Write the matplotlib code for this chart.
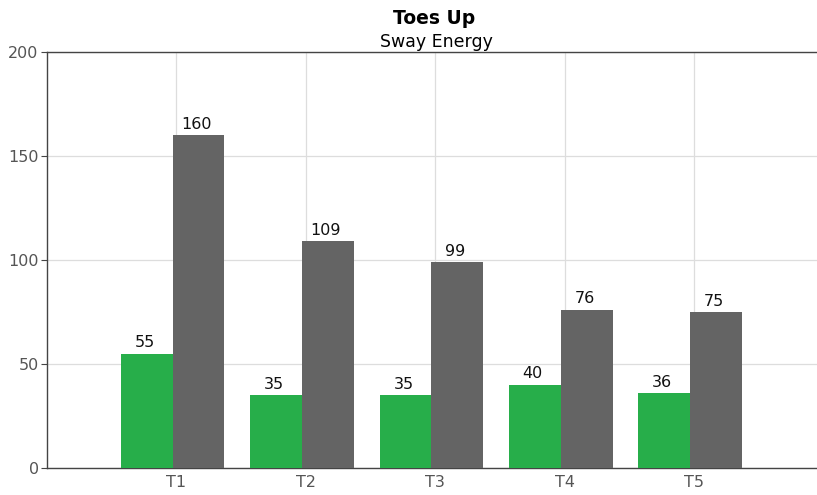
import numpy as np
import matplotlib.pyplot as plt

categories = ['T1', 'T2', 'T3', 'T4', 'T5']
green_vals = [55, 35, 35, 40, 36]
gray_vals = [160, 109, 99, 76, 75]

GREEN = '#27ae4a'
GRAY = '#646464'

fig = plt.figure(figsize=(8.17, 4.95), dpi=100)
ax = fig.add_axes([47 / 817, 27 / 495, 1 - 47 / 817, (468 - 52) / 495])

x = np.arange(1, len(categories) + 1)
w = 0.4
shift = -0.03  # pair sits a touch left of the category line

b1 = ax.bar(x + shift - w / 2, green_vals, w, color=GREEN, zorder=3)
b2 = ax.bar(x + shift + w / 2, gray_vals, w, color=GRAY, zorder=3)

for bars, vals in ((b1, green_vals), (b2, gray_vals)):
    for rect, v in zip(bars, vals):
        ax.annotate(str(v), (rect.get_x() + rect.get_width() / 2, v),
                    xytext=(-1.5, 2.5), textcoords='offset points',
                    ha='center', va='bottom', fontsize=11.5, color='#111111')

ax.set_xlim(0, 5.95)
ax.set_ylim(0, 200)
ax.set_xticks(x)
ax.set_xticklabels(categories)
ax.set_yticks([0, 50, 100, 150, 200])
ax.grid(True, color='#dddddd', linewidth=0.9, zorder=0)
ax.tick_params(axis='x', length=0, pad=5, labelsize=11.5, labelcolor='#555555')
ax.tick_params(axis='y', length=4, width=0.8, color='#444444', pad=2,
               labelsize=11.5, labelcolor='#555555')

for side in ('left', 'bottom', 'top'):
    ax.spines[side].set_color('#444444')
    ax.spines[side].set_linewidth(1.0)
ax.spines['right'].set_visible(False)

fig.text(434 / 817, 1 - 19 / 495, 'Toes Up', ha='center', va='center',
         fontsize=13.5, fontweight='bold')
fig.text(436 / 817, 1 - 42 / 495, 'Sway Energy', ha='center', va='center',
         fontsize=12.5)

fig.savefig('out.png', dpi=100)
